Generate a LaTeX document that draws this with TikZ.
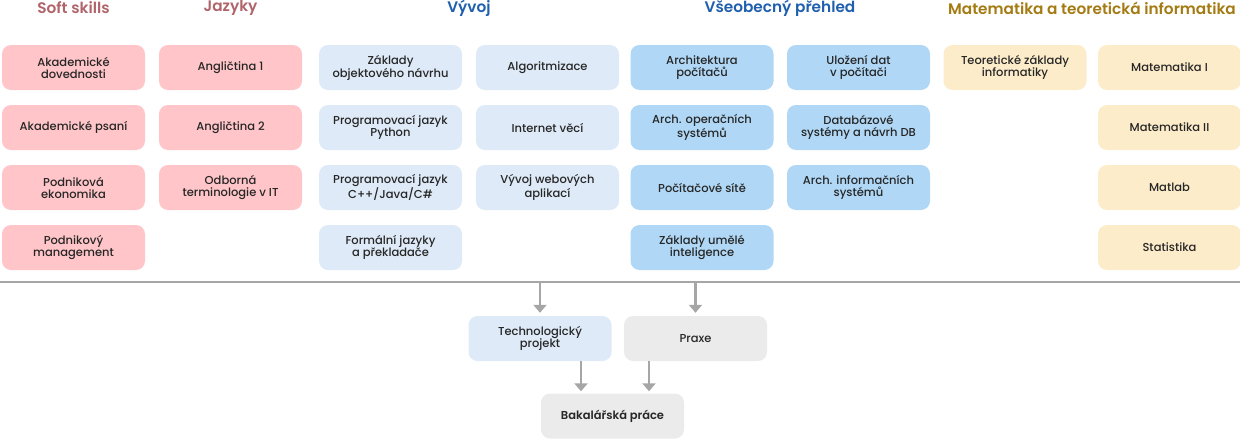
\documentclass[tikz,border=0pt]{standalone}
\usepackage{fontspec}
\setmainfont{Poppins}[UprightFont=* Medium, BoldFont=* SemiBold]
\usetikzlibrary{arrows.meta}
\definecolor{softred}{HTML}{B0646A}
\definecolor{devblue}{HTML}{1F5FAD}
\definecolor{mathgold}{HTML}{A47A12}
\definecolor{pinkbox}{HTML}{FFC5C8}
\definecolor{lightblue}{HTML}{DEEAF7}
\definecolor{midblue}{HTML}{B0D8F6}
\definecolor{creambox}{HTML}{FDECC9}
\definecolor{graybox}{HTML}{EBEBEB}
\definecolor{linegray}{HTML}{A6A6A6}

\begin{document}
\begin{tikzpicture}[x=1pt,y=-1pt,
	box/.style={rounded corners=9pt, minimum width=143pt, minimum height=45pt, align=center, inner sep=2pt, text=black!85, font=\fontsize{11.5}{12}\selectfont},
	head/.style={font=\fontsize{15.3}{17}\selectfont\bfseries},
	link/.style={draw=linegray, line width=2.6pt, -{Triangle[width=13pt,length=8pt]}}]
	\useasboundingbox (0,0) rectangle (1240,439);
	% column headings
	\node[head, text=softred] (hsoft) at (73.5,8) {Soft skills};
	\node[head, text=softred] (hjaz) at (230.5,8) {Jazyky};
	\node[head, text=devblue] (hvyv) at (469,8) {Vývoj};
	\node[head, text=devblue] (hvse) at (780,8) {Všeobecný přehled};
	\node[head, text=mathgold] (hmat) at (1092,8) {Matematika a teoretická informatika};
	% courses
	\foreach \n/\t [count=\i] in {akad/{Akademické\\dovednosti}, psani/{Akademické psaní}, ekon/{Podniková\\ekonomika}, mng/{Podnikový\\management}}
		\node[box, fill=pinkbox] (\n) at (73.5,{7.5+60*\i}) {\t};
	\foreach \n/\t [count=\i] in {ang1/{Angličtina 1}, ang2/{Angličtina 2}, term/{Odborná\\terminologie v IT}}
		\node[box, fill=pinkbox] (\n) at (230.5,{7.5+60*\i}) {\t};
	\foreach \n/\t [count=\i] in {zon/{Základy\\objektového návrhu}, python/{Programovací jazyk\\Python}, cpp/{Programovací jazyk\\C++/Java/C\#}, fjp/{Formální jazyky\\a překladače}}
		\node[box, fill=lightblue] (\n) at (390.5,{7.5+60*\i}) {\t};
	\foreach \n/\t [count=\i] in {alg/{Algoritmizace}, iot/{Internet věcí}, web/{Vývoj webových\\aplikací}}
		\node[box, fill=lightblue] (\n) at (547.5,{7.5+60*\i}) {\t};
	\foreach \n/\t [count=\i] in {arch/{Architektura\\počítačů}, aos/{Arch. operačních\\systémů}, site/{Počítačové sítě}, ui/{Základy umělé\\inteligence}}
		\node[box, fill=midblue] (\n) at (702,{7.5+60*\i}) {\t};
	\foreach \n/\t [count=\i] in {ulo/{Uložení dat\\v počítači}, dbs/{Databázové\\systémy a návrh DB}, ais/{Arch. informačních\\systémů}}
		\node[box, fill=midblue] (\n) at (858.5,{7.5+60*\i}) {\t};
	\node[box, fill=creambox] (tzi) at (1015,67.5) {Teoretické základy\\informatiky};
	\foreach \n/\t [count=\i] in {mat1/{Matematika I}, mat2/{Matematika II}, matlab/{Matlab}, stat/{Statistika}}
		\node[box, fill=creambox] (\n) at (1169.5,{7.5+60*\i}) {\t};
	% bottom part
	\coordinate (ruleL) at (0,282);
	\coordinate (ruleR) at (1240,282);
	\draw[linegray, line width=2.6pt] (ruleL) -- (ruleR);
	\node[box, fill=lightblue] (tech) at (540,338.5) {Technologický\\projekt};
	\node[box, fill=graybox] (praxe) at (695.5,338.5) {Praxe};
	\node[box, fill=graybox] (bp) at (612.5,416) {\bfseries Bakalářská práce};
	\draw[link, shorten >=3pt] (tech.north |- ruleL) -- (tech.north);
	\draw[link, shorten >=3pt] (praxe.north |- ruleL) -- (praxe.north);
	\draw[link, shorten >=2pt] ([xshift=41pt]tech.south) -- ([xshift=41pt]tech.south |- bp.north);
	\draw[link, shorten >=2pt] ([xshift=-46.5pt]praxe.south) -- ([xshift=-46.5pt]praxe.south |- bp.north);
\end{tikzpicture}
\end{document}
